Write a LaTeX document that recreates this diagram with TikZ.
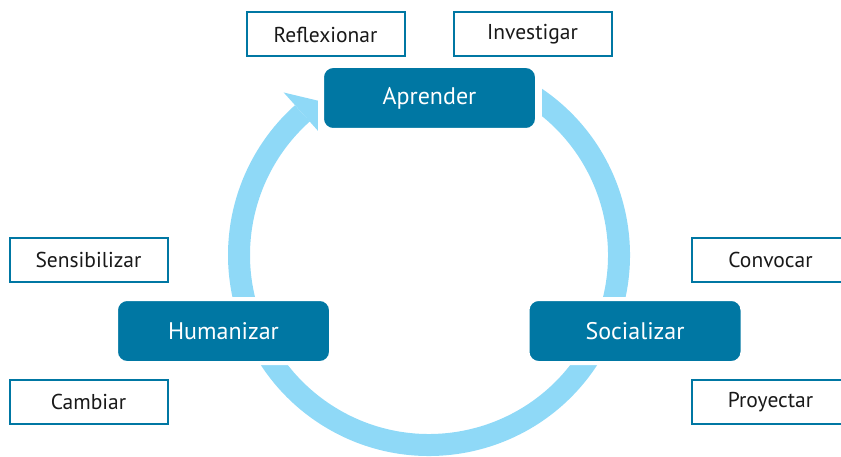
\documentclass[tikz,border=0pt]{standalone}
\usepackage{fontspec}
\setmainfont{PT Sans}
\definecolor{teal}{HTML}{0077A3}
\definecolor{ringblue}{HTML}{8FD9F7}
\tikzset{
  mainbox/.style={fill=teal, draw=white, line width=4pt, rounded corners=11pt,
    minimum width=215pt, minimum height=64pt, text=white, font=\fontsize{24}{28}\selectfont, inner sep=0pt},
  labelbox/.style={fill=white, draw=teal, line width=2pt, minimum width=158pt,
    minimum height=44pt, text=black!90, font=\fontsize{21.5}{25}\selectfont, inner sep=0pt},
  ring/.style={draw=ringblue, line width=22pt},
  ringhead/.style={fill=ringblue, draw=none}
}
\begin{document}
\begin{tikzpicture}[x=1pt,y=1pt]
\useasboundingbox (0,0) rectangle (841,456);
\clip (0,0) rectangle (841,456);
\coordinate (c) at (429,201);
\begin{scope}[shift={(c)}]
  \draw[ring] (57:190) arc[start angle=57, end angle=-228.2, radius=190];
  \coordinate (ha) at (131.8:218);
  \coordinate (hb) at (125.7:190);
  \coordinate (hc) at (131.8:165);
  \fill[ringhead] (ha) -- (hb) -- (hc) -- cycle;
\end{scope}
\fill[white] (318,321) rectangle (542,394);
\node[mainbox] (apr) at (429.5,358) {Aprender};
\node[mainbox] (hum) at (223.5,125) {Humanizar};
\node[mainbox] (soc) at (635,125) {Socializar};
\node[labelbox] (ref) at (325.5,421.5) {Reflexionar};
\node[labelbox] (inv) at (532.5,421.5) {Investigar};
\node[labelbox] (sen) at (88.5,196) {Sensibilizar};
\node[labelbox] (cam) at (88.5,54) {Cambiar};
\node[labelbox] (con) at (770.5,196) {Convocar};
\node[labelbox] (pro) at (770.5,54) {Proyectar};
\end{tikzpicture}
\end{document}
